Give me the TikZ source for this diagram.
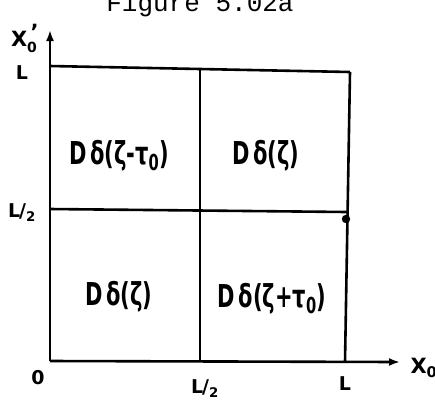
\documentclass[tikz,border=0pt]{standalone}
\usepackage{fontspec}
\setmainfont{DejaVu Sans}
\newfontfamily\typefont{Liberation Mono}
\usetikzlibrary{arrows.meta}
\newcommand{\tallbox}[1]{\scalebox{1}[1.5]{#1}}
\begin{document}
\begin{tikzpicture}[x=1pt,y=-1pt,
  ln/.style={line width=2.6pt},
  ax/.style={line width=2.6pt,-{Latex[length=11pt,width=8pt]}},
  cell/.style={font=\fontsize{21}{24}\selectfont\bfseries},
  tick/.style={font=\fontsize{19}{22}\selectfont\bfseries},
  axlab/.style={font=\fontsize{21}{24}\selectfont\bfseries},
  title/.style={font=\fontsize{26}{30}\selectfont\typefont, anchor=base}]
\useasboundingbox (0,0) rectangle (435,400);
\fill[white] (0,0) rectangle (435,400);
% corners
\coordinate (O) at (50,361);
\coordinate (Ytop) at (50,30);
\coordinate (Xend) at (400,362);
\coordinate (TL) at (50,66);
\coordinate (TM) at (200,69);
\coordinate (TR) at (350,72);
\coordinate (ML) at (50,209);
\coordinate (MM) at (200,210);
\coordinate (MR) at (347,212);
\coordinate (BM) at (200,361);
\coordinate (BR) at (345,362);
% grid
\draw[ln] (TL) -- (TR);
\draw[ln] (ML) -- (MR);
\draw[ln] (TM) -- (BM);
\draw[ln] (TR) -- (BR);
% axes
\draw[ax] (O) -- (Ytop);
\draw[ax] (O) -- (Xend);
\fill (346,219) circle (4.2pt);
% title
\node[title] (ttl) at (200,11) {Figure 5.02a};
% axis labels
\node[axlab,inner sep=0pt] (yl) at (24,38) {X\rlap{\raisebox{7pt}{\,'}}\raisebox{-6pt}{\fontsize{14}{14}\selectfont 0}};
\node[axlab] (xl) at (424,368) {X\textsubscript{0}};
\node[tick] (yL) at (22,73) {L};
\node[tick] (yL2) at (22,213) {L\kern-1pt/\textsubscript{2}};
\node[tick] (o) at (38,378) {0};
\node[tick] (xL2) at (205,389) {L\kern-1pt/\textsubscript{2}};
\node[tick] (xL) at (345,384) {L};
% cells
\node[cell] (c1) at (119,156) {\tallbox{D\,δ(ζ-τ\textsubscript{0})}};
\node[cell] (c2) at (266,156) {\tallbox{D\,δ(ζ)}};
\node[cell] (c3) at (119,297) {\tallbox{D\,δ(ζ)}};
\node[cell] (c4) at (272,299) {\tallbox{D\,δ(ζ+τ\textsubscript{0})}};
\end{tikzpicture}
\end{document}
